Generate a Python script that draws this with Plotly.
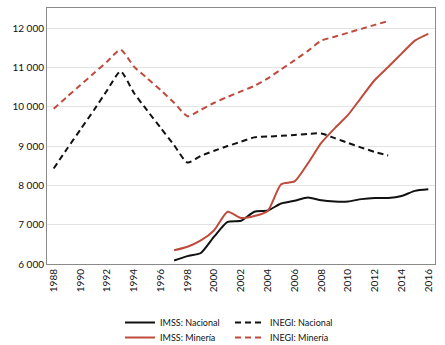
import plotly.graph_objects as go

# Employment series (thousands of workers)
years_inegi = list(range(1988, 2014))
inegi_nacional = [8430, 8930, 9420, 9910, 10420, 10900, 10350, 9900, 9460, 9020,
                  8580, 8750, 8880, 9000, 9110, 9220, 9240, 9260, 9280, 9310,
                  9320, 9200, 9080, 8960, 8850, 8760]
inegi_mineria = [9950, 10250, 10550, 10850, 11150, 11450, 11020, 10720, 10420, 10100,
                 9760, 9920, 10100, 10250, 10390, 10530, 10720, 10950, 11180, 11420,
                 11680, 11780, 11880, 11980, 12080, 12180]

years_imss = list(range(1997, 2017))
imss_nacional = [6090, 6200, 6280, 6700, 7070, 7100, 7330, 7360, 7540, 7610,
                 7690, 7620, 7590, 7590, 7650, 7680, 7680, 7730, 7860, 7900]
imss_mineria = [6350, 6440, 6600, 6860, 7330, 7170, 7220, 7350, 8030, 8100,
                8560, 9080, 9450, 9790, 10240, 10680, 11010, 11350, 11680, 11850]

x_ticks = list(range(1988, 2017, 2))
y_ticks = [6000, 7000, 8000, 9000, 10000, 11000, 12000]
y_tick_text = ["6 000", "7 000", "8 000", "9 000", "10 000", "11 000", "12 000"]

BLACK = "#111111"
RED = "#BE4B3C"
DASH = "6px,4px"
SPLINE = dict(shape="spline", smoothing=0.6)

fig = go.Figure()
fig.add_trace(go.Scatter(x=years_imss, y=imss_nacional, name="IMSS: Nacional",
                         mode="lines", line=dict(color=BLACK, width=2, **SPLINE),
                         legend="legend"))
fig.add_trace(go.Scatter(x=years_imss, y=imss_mineria, name="IMSS: Minería",
                         mode="lines", line=dict(color=RED, width=2, **SPLINE),
                         legend="legend3"))
fig.add_trace(go.Scatter(x=years_inegi, y=inegi_nacional, name="INEGI: Nacional",
                         mode="lines", line=dict(color=BLACK, width=2, dash=DASH, **SPLINE),
                         legend="legend2"))
fig.add_trace(go.Scatter(x=years_inegi, y=inegi_mineria, name="INEGI: Minería",
                         mode="lines", line=dict(color=RED, width=2, dash=DASH, **SPLINE),
                         legend="legend4"))

font_family = "Lato, 'Open Sans', sans-serif"
legend_common = dict(orientation="v", yanchor="top", xanchor="left",
                     xref="container", yref="container",
                     bgcolor="rgba(0,0,0,0)", font=dict(family=font_family, size=9, color="#111"),
                     itemwidth=30, tracegroupgap=0)
tick_font = dict(family=font_family, size=10, color="#111")

# two-column key: left column IMSS, right column INEGI
col_left, col_right = 120 / 445, 230 / 445
row_top, row_bottom = 1 - 308 / 345, 1 - 323 / 345

fig.update_layout(
    width=445, height=345,
    margin=dict(l=47, r=10, t=8, b=81, autoexpand=False),
    paper_bgcolor="white", plot_bgcolor="white",
    font=dict(family=font_family, size=10, color="#111"),
    showlegend=True,
    legend=dict(x=col_left, y=row_top, **legend_common),
    legend2=dict(x=col_right, y=row_top, **legend_common),
    legend3=dict(x=col_left, y=row_bottom, **legend_common),
    legend4=dict(x=col_right, y=row_bottom, **legend_common),
    xaxis=dict(range=[1987.5, 2016.5], tickvals=x_ticks, ticktext=[str(v) for v in x_ticks],
               tickangle=-90, showgrid=False, zeroline=False, automargin=False,
               showline=True, linecolor="#8a8a8a", linewidth=1, mirror=True,
               ticks="", tickfont=tick_font),
    yaxis=dict(range=[6000, 12510], tickvals=y_ticks, ticktext=y_tick_text,
               showgrid=True, gridcolor="#e3e3e3", gridwidth=1, zeroline=False, automargin=False,
               showline=True, linecolor="#8a8a8a", linewidth=1, mirror=True,
               ticks="", tickfont=tick_font),
)

fig.write_html("out.html")
